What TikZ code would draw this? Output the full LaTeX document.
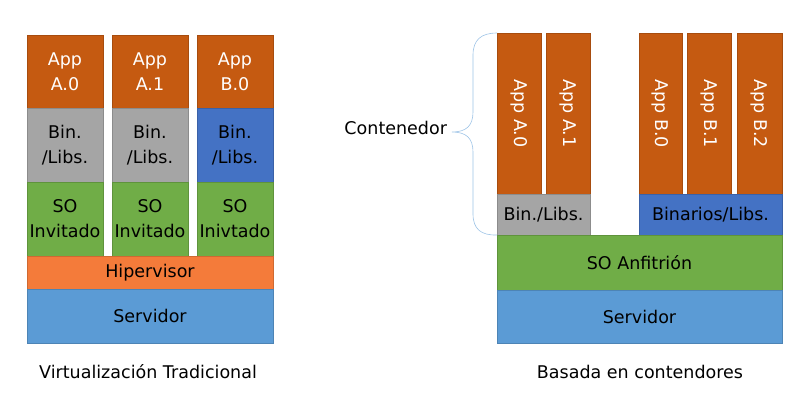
\documentclass[tikz,border=0pt]{standalone}
\usepackage{fontspec}
\usepackage{graphicx}
\setmainfont{DejaVu Sans}
\definecolor{appc}{HTML}{C55A11}
\definecolor{binc}{HTML}{A5A5A5}
\definecolor{blbc}{HTML}{4472C4}
\definecolor{soc}{HTML}{70AD47}
\definecolor{hipc}{HTML}{F47B3A}
\definecolor{srvc}{HTML}{5B9BD5}
\definecolor{bracec}{HTML}{9DC3E6}
\newcommand\blk[7]{\node[#1, minimum width={(#5-#3)*1pt}, minimum height={(#6-#4)*1pt}] (#2) at ({(#3+#5)/2},{(#4+#6)/2}) {#7};}
\begin{document}
\begin{tikzpicture}[x=1pt,y=-1pt,
  base/.style={rectangle, inner sep=0pt, outer sep=0pt, align=center, font=\fontsize{17.5}{25}\selectfont},
  appbox/.style={base, fill=appc, draw=appc!85!black, line width=0.4pt, text=white},
  binbox/.style={base, fill=binc, draw=binc!85!black, line width=0.4pt, text=black},
  blbox/.style={base, fill=blbc, draw=blbc!85!black, line width=0.4pt, text=black},
  sobox/.style={base, fill=soc, draw=soc!85!black, line width=0.4pt, text=black},
  hipbox/.style={base, fill=hipc, draw=hipc!85!black, line width=0.4pt, text=black},
  srvbox/.style={base, fill=srvc, draw=srvc!85!black, line width=0.4pt, text=black},
  lbl/.style={base, text=black}]
\useasboundingbox (0,0) rectangle (800,410);
% Traditional virtualization
\blk{appbox}{la0}{27}{35}{103}{108}{App\\A.0}
\blk{appbox}{la1}{112}{35}{188}{108}{App\\A.1}
\blk{appbox}{lb0}{197}{35}{273}{108}{App\\B.0}
\blk{binbox}{lbin0}{27}{108}{103}{182}{Bin.\\/Libs.}
\blk{binbox}{lbin1}{112}{108}{188}{182}{Bin.\\/Libs.}
\blk{blbox}{lbin2}{197}{108}{273}{182}{Bin.\\/Libs.}
\blk{sobox}{lso0}{27}{182}{103}{256}{SO\\Invitado}
\blk{sobox}{lso1}{112}{182}{188}{256}{SO\\Invitado}
\blk{sobox}{lso2}{197}{182}{273}{256}{SO\\Inivtado}
\blk{hipbox}{lhip}{27}{256}{273}{289}{Hipervisor}
\blk{srvbox}{lsrv}{27}{289}{273}{343}{Servidor}
\node[lbl] (ltitle) at (148,372) {Virtualización Tradicional};
% Container based
\blk{appbox}{ra0}{497}{33}{541}{194}{\rotatebox{-90}{App A.0}}
\blk{appbox}{ra1}{546}{33}{590}{194}{\rotatebox{-90}{App A.1}}
\blk{appbox}{rb0}{639}{33}{682}{194}{\rotatebox{-90}{App B.0}}
\blk{appbox}{rb1}{687}{33}{731}{194}{\rotatebox{-90}{App B.1}}
\blk{appbox}{rb2}{737}{33}{782}{194}{\rotatebox{-90}{App B.2}}
\blk{binbox}{rbin0}{497}{194}{590}{235}{Bin./Libs.}
\blk{blbox}{rbin1}{639}{194}{782}{235}{Binarios/Libs.}
\blk{sobox}{rso}{497}{235}{782}{290}{SO Anfitrión}
\blk{srvbox}{rsrv}{497}{290}{782}{343}{Servidor}
\node[lbl] (rtitle) at (640,372) {Basada en contendores};
\node[lbl, anchor=east] (cont) at (447,128) {Contenedor};
% brace
\draw[bracec, line width=0.6pt]
  (ra0.north west) .. controls (481,33) and (473,40) .. (473,55)
  -- (473,112) .. controls (473,126) and (466,132) .. (452,132)
  .. controls (466,132) and (473,138) .. (473,152)
  -- (473,214) .. controls (473,229) and (481,235.5) .. (rbin0.south west);
\end{tikzpicture}
\end{document}
